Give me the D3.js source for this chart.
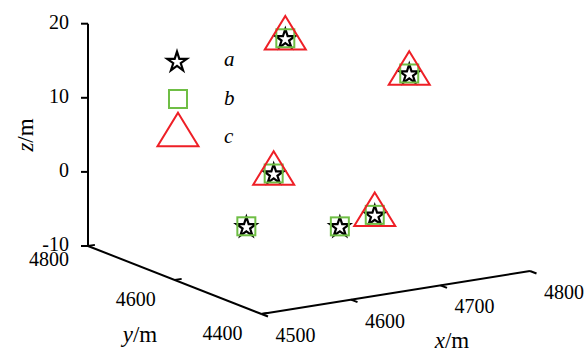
<!DOCTYPE html>
<html>
<head>
<meta charset="utf-8">
<script src="https://cdn.jsdelivr.net/npm/d3@7"></script>
<style>
  body { margin: 0; background: #fff; }
</style>
</head>
<body>
<div id="chart"></div>
<script>
// tick labels
const xTicks = [4500, 4600, 4700, 4800];
const yTicks = [4400, 4600, 4800];
const zTicks = [-10, 0, 10, 20];

// series a (stars), b (squares), c (triangles)
const aX = [4672, 4762, 4659, 4580, 4636, 4675];
const aY = [4700, 4600, 4700, 4600, 4500, 4500];
const aZ = [17.0, 12.8, -1.0, -4.3, -3.1, -2.3];

const bX = [4672, 4762, 4659, 4580, 4636, 4675];
const bY = [4700, 4600, 4700, 4600, 4500, 4500];
const bZ = [17.0, 12.8, -1.0, -4.3, -3.1, -2.3];

const cX = [4672, 4762, 4659, 4675];
const cY = [4700, 4600, 4700, 4500];
const cZ = [17.0, 12.8, -1.0, -2.3];

const legendNames = ["a", "b", "c"];

const width = 588, height = 354;
const green = "#6fbe45", red = "#ee1f26";
const serif = "'Liberation Serif', 'Times New Roman', 'DejaVu Serif', serif";

// axis scales, each mapped onto a 0..1 share of its axis
const xS = d3.scaleLinear().domain([4500, 4800]).range([0, 1]);
const yS = d3.scaleLinear().domain([4400, 4800]).range([0, 1]);
const zS = d3.scaleLinear().domain([-10, 20]).range([0, 1]);

// screen vectors of the box edges (oblique view)
const origin = [261.5, 314];
const ex = [268.5, -43];
const ey = [-173.5, -68];
const ez = [0, -222.3];

function proj(x, y, z) {
  const u = xS(x), v = yS(y), w = zS(z);
  return [origin[0] + u * ex[0] + v * ey[0] + w * ez[0],
          origin[1] + u * ex[1] + v * ey[1] + w * ez[1]];
}

const svg = d3.select("#chart").append("svg")
  .attr("width", width)
  .attr("height", height)
  .attr("font-family", serif);

svg.append("rect").attr("width", width).attr("height", height).attr("fill", "#fff");

const line = d3.line();
const axisG = svg.append("g").attr("stroke", "#000").attr("stroke-width", 2).attr("fill", "none");

// z axis at back-left corner
axisG.append("path").attr("d", line([proj(4500, 4800, -10), proj(4500, 4800, 20)]));
// y axis
axisG.append("path").attr("d", line([proj(4500, 4800, -10), proj(4500, 4400, -10)]));
// x axis
axisG.append("path").attr("d", line([proj(4500, 4400, -10), proj(4800, 4400, -10)]));

const tickLen = 7;
zTicks.forEach(t => {
  const p = proj(4500, 4800, t);
  axisG.append("path").attr("d", line([p, [p[0] - tickLen, p[1]]]));
});
yTicks.forEach(t => {
  const p = proj(4500, t, -10);
  axisG.append("path").attr("d", line([p, [p[0] + tickLen * 0.99, p[1] - tickLen * 0.16]]));
});
xTicks.forEach(t => {
  const p = proj(t, 4400, -10);
  axisG.append("path").attr("d", line([p, [p[0] + tickLen * 0.93, p[1] + tickLen * 0.36]]));
});

// tick labels
const fs = 20;
zTicks.forEach(t => {
  const p = proj(4500, 4800, t);
  svg.append("text").attr("x", p[0] - 19).attr("y", p[1] + 5)
    .attr("text-anchor", "end").attr("font-size", fs).text(t);
});
yTicks.forEach(t => {
  const p = proj(4500, t, -10);
  svg.append("text").attr("x", p[0] - 39).attr("y", p[1] + (t === 4800 ? 20 : 26))
    .attr("text-anchor", "middle").attr("font-size", fs).text(t);
});
xTicks.forEach(t => {
  const p = proj(t, 4400, -10);
  svg.append("text").attr("x", p[0] + 34).attr("y", p[1] + 28)
    .attr("text-anchor", "middle").attr("font-size", fs).text(t);
});

// axis titles
function axisTitle(x, y, v, rot) {
  const t = svg.append("text").attr("font-size", 23).attr("text-anchor", "middle")
    .attr("transform", `translate(${x},${y}) rotate(${rot})`);
  t.append("tspan").attr("font-style", "italic").text(v);
  t.append("tspan").text("/m");
}
axisTitle(33, 135, "z", -90);
axisTitle(140, 342, "y", 0);
axisTitle(452, 348, "x", 0);

// markers
const starPath = d3.symbol().type(d3.symbolStar).size(120)();
const sq = 18;
const triW = 41, triH = 33.5;
const triPath = `M0,${-2 * triH / 3}L${triW / 2},${triH / 3}L${-triW / 2},${triH / 3}Z`;

function drawStar(g, p) {
  g.append("path").attr("d", starPath).attr("transform", `translate(${p[0]},${p[1] + 1})`)
    .attr("fill", "#fff").attr("stroke", "#000").attr("stroke-width", 2.2)
    .attr("stroke-linejoin", "miter");
}
function drawSquare(g, p) {
  g.append("rect").attr("x", p[0] - sq / 2).attr("y", p[1] - sq / 2)
    .attr("width", sq).attr("height", sq)
    .attr("fill", "none").attr("stroke", green).attr("stroke-width", 2);
}
function drawTri(g, p) {
  g.append("path").attr("d", triPath).attr("transform", `translate(${p[0]},${p[1]})`)
    .attr("fill", "none").attr("stroke", red).attr("stroke-width", 2);
}

const marks = svg.append("g");
aX.forEach((x, i) => drawStar(marks, proj(x, aY[i], aZ[i])));
bX.forEach((x, i) => drawSquare(marks, proj(x, bY[i], bZ[i])));
cX.forEach((x, i) => drawTri(marks, proj(x, cY[i], cZ[i])));

// legend
const leg = svg.append("g");
const legY = [61, 99, 135];
drawStar(leg, [177, legY[0]]);
drawSquare(leg, [178, legY[1]]);
drawTri(leg, [178, legY[2]]);
legendNames.forEach((n, i) => {
  leg.append("text").attr("x", 224).attr("y", [66, 105, 143][i])
    .attr("font-size", 21).attr("font-style", "italic").text(n);
});
</script>
</body>
</html>
